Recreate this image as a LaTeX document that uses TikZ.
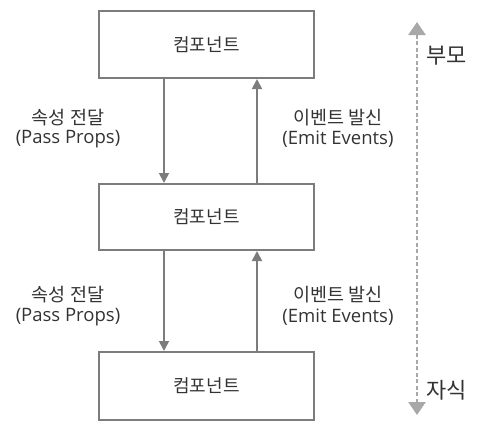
\documentclass[tikz,border=0pt]{standalone}
\usepackage{fontspec}
\setmainfont{Noto Sans CJK KR}
\newfontfamily\latinfont{Open Sans}
\usetikzlibrary{arrows.meta}
\definecolor{boxgray}{HTML}{7C7C7C}
\definecolor{txtgray}{HTML}{333333}
\definecolor{dashgray}{HTML}{A8A8A8}
\newcommand{\korline}[1]{{\fontsize{18.5}{21}\selectfont #1}}
\newcommand{\latline}[1]{{\latinfont\fontsize{18.5}{21}\selectfont #1}}
\begin{document}
\begin{tikzpicture}[x=1pt,y=-1pt,
  compbox/.style={draw=boxgray,line width=2pt,minimum width=215pt,minimum height=67pt,inner sep=0pt,text=txtgray,font=\fontsize{18}{20}\selectfont},
  flowarr/.style={draw=boxgray,line width=1.8pt,-{Triangle[width=10pt,length=10pt]}},
  lbl/.style={text=txtgray,inner sep=0pt},
  side/.style={text=txtgray,font=\fontsize{22}{24}\selectfont,inner sep=0pt,anchor=west}]
\useasboundingbox (0,0) rectangle (490,434);
\node[compbox] (b1) at (206.5,44.5) {컴포넌트};
\node[compbox,minimum height=66pt] (b2) at (206.5,217) {컴포넌트};
\node[compbox,minimum height=68pt] (b3) at (206.5,386) {컴포넌트};
\coordinate (dx) at (164,0);
\coordinate (ux) at (257,0);
\draw[flowarr] (b1.south -| dx) -- (b2.north -| dx);
\draw[flowarr] (b2.north -| ux) -- (b1.south -| ux);
\draw[flowarr] (b2.south -| dx) -- (b3.north -| dx);
\draw[flowarr] (b3.north -| ux) -- (b2.south -| ux);
\node[lbl] (l1a) at (68,118) {\korline{속성 전달}};
\node[lbl] (l1b) at (68,139) {\latline{(Pass Props)}};
\node[lbl] (r1a) at (338,118) {\korline{이벤트 발신}};
\node[lbl] (r1b) at (338,139) {\latline{(Emit Events)}};
\node[lbl] (l2a) at (68,295) {\korline{속성 전달}};
\node[lbl] (l2b) at (68,317) {\latline{(Pass Props)}};
\node[lbl] (r2a) at (338,295) {\korline{이벤트 발신}};
\node[lbl] (r2b) at (338,317) {\latline{(Emit Events)}};
\coordinate (ctop) at (417,22);
\coordinate (cbot) at (417,415);
\draw[draw=dashgray,line width=2.6pt,dash pattern=on 4pt off 2.5pt,{Triangle[width=17pt,length=13pt]}-{Triangle[width=17pt,length=13pt]}] (cbot) -- (ctop);
\node[side] (parent) at (426,56) {부모};
\node[side] (child) at (426,390) {자식};
\end{tikzpicture}
\end{document}
